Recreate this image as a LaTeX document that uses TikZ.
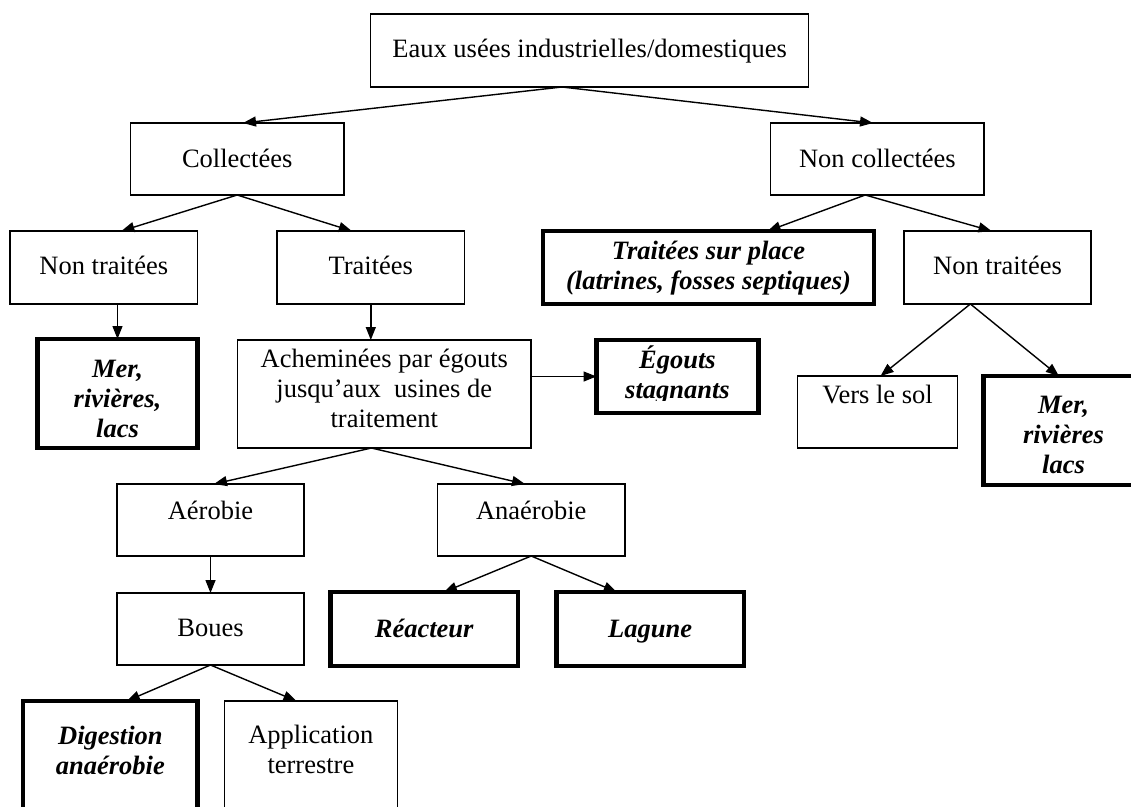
\documentclass[tikz,border=0pt]{standalone}
\usepackage{fontspec}
\setmainfont{Liberation Serif}
\usetikzlibrary{arrows.meta,calc}

% type sizes used in the chart
\newcommand\regtxt{\fontsize{26.5}{30}\selectfont}
\newcommand\keytxt{\fontsize{26.5}{30}\selectfont\bfseries\itshape}
% centred lines whose reference point is the first baseline
\newcommand\ml[1]{\begin{tabular}[t]{@{}c@{}}#1\end{tabular}}

\begin{document}
\begin{tikzpicture}[x=1pt,y=-1pt,
  box/.style={draw, line width=1.5pt, inner sep=0pt, outer sep=0pt,
              anchor=north, font=\regtxt},
  keybox/.style={box, line width=4.2pt, font=\keytxt},
  keytext/.style={inner sep=0pt, anchor=north, font=\keytxt},
  arr/.style={-{Triangle[length=13pt,width=10pt]}, line width=1.4pt}]

\useasboundingbox (0,0) rectangle (1131,806);
\fill[white] (0,0) rectangle (1131,806);
\clip (0,0) rectangle (1131,806);

% level 0
\node[box, minimum width=438, text height=43pt, text depth=30pt]
  (src) at (589.6,14) {\ml{Eaux usées industrielles/domestiques}};

% level 1
\node[box, minimum width=213.5, text height=44pt, text depth=28pt]
  (coll) at (237.2,123) {\ml{Collectées}};
\node[box, minimum width=213.5, text height=44pt, text depth=28pt]
  (ncoll) at (877.4,123) {\ml{Non collectées}};

% level 2
\node[box, minimum width=187.5, text height=43pt, text depth=30pt]
  (ntl) at (103.8,231) {\ml{Non traitées}};
\node[box, minimum width=187.5, text height=43pt, text depth=30pt]
  (trt) at (370.8,231) {\ml{Traitées}};
\node[keybox, minimum width=331, text height=28pt, text depth=45pt]
  (tsp) at (708.5,231) {\ml{Traitées sur place\\(latrines, fosses septiques)}};
\node[box, minimum width=187, text height=43pt, text depth=30pt]
  (ntr) at (997.5,231) {\ml{Non traitées}};

% level 3 (the three key boxes below cut their text off at the bottom margin)
\node[keybox, minimum width=160, minimum height=109] (merl) at (117.5,339) {};
\begin{scope}
  \clip (merl.north west) rectangle ([yshift=10pt]merl.south east);
  \node[keytext, text height=38pt, text depth=71pt] (merl-t) at (merl.north)
    {\ml{Mer,\\rivières,\\lacs}};
\end{scope}
\node[box, minimum width=293.5, text height=27pt, text depth=81pt]
  (ach) at (384.3,340) {\ml{Acheminées par égouts\\jusqu’aux\ \ usines de\\traitement}};
\node[keybox, minimum width=162, minimum height=73] (egt) at (677.5,340) {};
\begin{scope}
  \clip (egt.north west) rectangle ([yshift=13pt]egt.south east);
  \node[keytext, text height=28pt, text depth=45pt] (egt-t) at (egt.north)
    {\ml{Égouts\\stagnants}};
\end{scope}
\node[box, minimum width=160, text height=27pt, text depth=45pt]
  (sol) at (877.6,376) {\ml{Vers le sol}};
\node[keybox, minimum width=160, minimum height=109] (merr) at (1063.5,376) {};
\begin{scope}
  \clip (merr.north west) rectangle ([yshift=12pt]merr.south east);
  \node[keytext, text height=37pt, text depth=72pt] (merr-t) at (merr.north)
    {\ml{Mer,\\rivières\\lacs}};
\end{scope}

% level 4
\node[box, minimum width=187, text height=35pt, text depth=37pt]
  (aer) at (210.5,484) {\ml{Aérobie}};
\node[box, minimum width=187.5, text height=35pt, text depth=37pt]
  (ana) at (531.2,484) {\ml{Anaérobie}};

% level 5
\node[box, minimum width=187, text height=43pt, text depth=29pt]
  (boues) at (210.5,593) {\ml{Boues}};
\node[keybox, minimum width=187.5, text height=45pt, text depth=29pt]
  (rea) at (424.2,592) {\ml{Réacteur}};
\node[keybox, minimum width=187.5, text height=45pt, text depth=29pt]
  (lag) at (650.2,592) {\ml{Lagune}};

% level 6
\node[keybox, minimum width=174.3, text height=43pt, text depth=90pt]
  (dig) at (110.4,701) {\ml{Digestion\\anaérobie}};
\node[box, minimum width=173.2, text height=42pt, text depth=90pt]
  (app) at (310.9,701) {\ml{Application\\terrestre}};

% connectors
\draw[arr] ([xshift=-27.6pt]src.south) -- ([xshift=5.8pt]coll.north);
\draw[arr] ([xshift=-27.6pt]src.south) -- ([xshift=-4.4pt]ncoll.north);
\draw[arr] (coll.south) -- ([xshift=17.6pt]ntl.north);
\draw[arr] (coll.south) -- ([xshift=-19pt]trt.north);
\draw[arr] (merl.north |- ntl.south) -- (merl.north);
\draw[arr] (trt.south) -- (trt.south |- ach.north);
\draw[arr] ([xshift=-12.2pt]ncoll.south) -- ([xshift=59.1pt]tsp.north);
\draw[arr] ([xshift=-12.2pt]ncoll.south) -- ([xshift=-6pt]ntr.north);
\draw[arr] ([xshift=-27.1pt]ntr.south) -- ([xshift=2.9pt]sol.north);
\draw[arr] ([xshift=-27.1pt]ntr.south) -- ([xshift=-4.6pt]merr.north);
\draw[arr] (egt.west -| ach.east) -- (egt.west);
\draw[arr] ([xshift=-12.9pt]ach.south) -- ([xshift=3.5pt]aer.north);
\draw[arr] ([xshift=-12.9pt]ach.south) -- ([xshift=-6.2pt]ana.north);
\draw[arr] (aer.south) -- (boues.north);
\draw[arr] (ana.south) -- ([xshift=19.8pt]rea.north);
\draw[arr] (ana.south) -- ([xshift=-33.5pt]lag.north);
\draw[arr] (boues.south) -- ([xshift=16.4pt]dig.north);
\draw[arr] (boues.south) -- ([xshift=-14.5pt]app.north);
\end{tikzpicture}
\end{document}
